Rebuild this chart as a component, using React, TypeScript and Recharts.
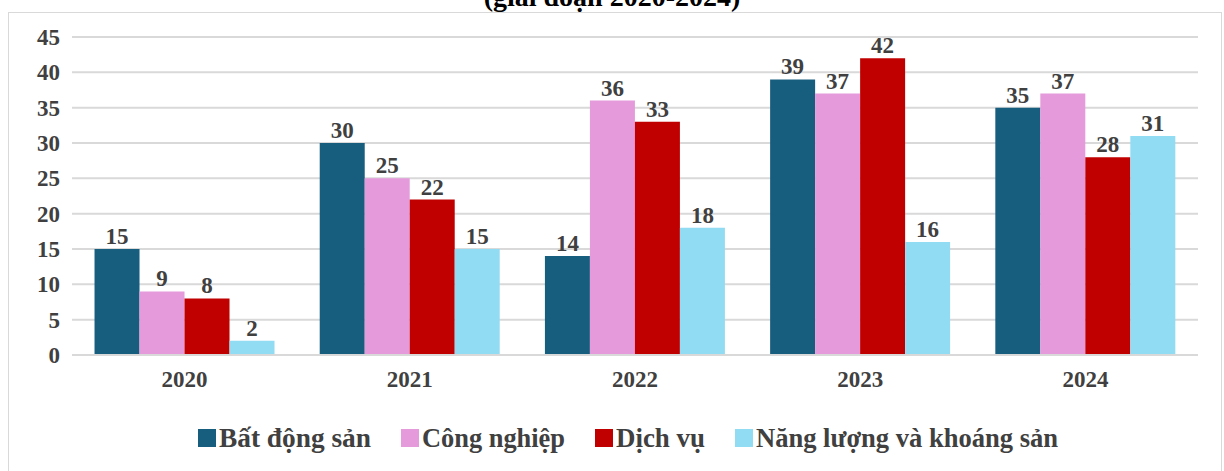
import { BarChart, Bar, XAxis, YAxis, CartesianGrid, Legend, LabelList } from "recharts";

const years = ["2020", "2021", "2022", "2023", "2024"];
const batDongSan = [15, 30, 14, 39, 35];
const congNghiep = [9, 25, 36, 37, 37];
const dichVu = [8, 22, 33, 42, 28];
const nangLuong = [2, 15, 18, 16, 31];
const yTicks = [0, 5, 10, 15, 20, 25, 30, 35, 40, 45];

const SERIES = [
  { key: "bds", name: "Bất động sản", color: "#175E7E" },
  { key: "cn", name: "Công nghiệp", color: "#E59ADB" },
  { key: "dv", name: "Dịch vụ", color: "#C00000" },
  { key: "nl", name: "Năng lượng và khoáng sản", color: "#92DCF3" },
];

const data = years.map((year, i) => ({
  year,
  bds: batDongSan[i],
  cn: congNghiep[i],
  dv: dichVu[i],
  nl: nangLuong[i],
}));

const FONT = "'Liberation Serif', 'Times New Roman', serif";
const TEXT = "#404040";

// legend drawn as svg so the text widths can follow the original
const renderLegend = () => {
  const widths = [152, 143, 89, 302];
  const gap = 30;
  const box = 18;
  const total = widths.reduce((a, w) => a + box + 3 + w, 0) + gap * (widths.length - 1);
  let x = (1212 - total) / 2 + 13;
  return (
    <svg width={1212} height={36}>
      {SERIES.map((s, i) => {
        const x0 = x;
        x += box + 3 + widths[i] + gap;
        return (
          <g key={s.key}>
            <rect x={x0} y={9} width={box} height={box} fill={s.color} />
            <text
              x={x0 + box + 3}
              y={27}
              fontFamily={FONT}
              fontSize={28}
              fontWeight="bold"
              fill={TEXT}
              textLength={widths[i]}
              lengthAdjust="spacingAndGlyphs"
            >
              {s.name}
            </text>
          </g>
        );
      })}
    </svg>
  );
};

export default function App() {
  return (
    <div
      style={{
        position: "absolute",
        left: 0,
        top: 0,
        width: 1224,
        height: 471,
        overflow: "hidden",
        background: "#fff",
      }}
    >
      <div
        style={{
          position: "absolute",
          left: 0,
          width: 1224,
          top: -17,
          textAlign: "center",
          fontFamily: FONT,
          fontWeight: "bold",
          fontSize: 28,
          lineHeight: 1,
          color: "#000",
        }}
      >
        (giai đoạn 2020-2024)
      </div>
      <div
        style={{
          position: "absolute",
          left: 8,
          top: 12,
          width: 1212,
          height: 470,
          border: "1px solid #d9d9d9",
          background: "#fff",
        }}
      >
        <BarChart
          width={1212}
          height={457}
          data={data}
          margin={{ top: 24, right: 23, left: 13, bottom: 85 }}
          barCategoryGap="10%"
          barGap={0}
        >
          <CartesianGrid vertical={false} stroke="#d9d9d9" strokeWidth={2} />
          <XAxis
            dataKey="year"
            axisLine={{ stroke: "#d9d9d9", strokeWidth: 2 }}
            tickLine={false}
            tickMargin={10}
            height={30}
            tick={{ fill: TEXT, fontSize: 23, fontFamily: FONT, fontWeight: "bold" }}
          />
          <YAxis
            domain={[0, 45]}
            ticks={yTicks}
            width={50}
            axisLine={false}
            tickLine={false}
            tickMargin={6}
            tick={{ fill: TEXT, fontSize: 23, fontFamily: FONT, fontWeight: "bold" }}
          />
          <Legend
            verticalAlign="middle"
            align="center"
            content={renderLegend}
            wrapperStyle={{ top: 407, left: 0, width: 1212 }}
          />
          {SERIES.map((s) => (
            <Bar key={s.key} dataKey={s.key} name={s.name} fill={s.color} isAnimationActive={false}>
              <LabelList
                dataKey={s.key}
                position="top"
                offset={5}
                fill={TEXT}
                fontSize={23}
                fontFamily={FONT}
                fontWeight="bold"
              />
            </Bar>
          ))}
        </BarChart>
      </div>
    </div>
  );
}
